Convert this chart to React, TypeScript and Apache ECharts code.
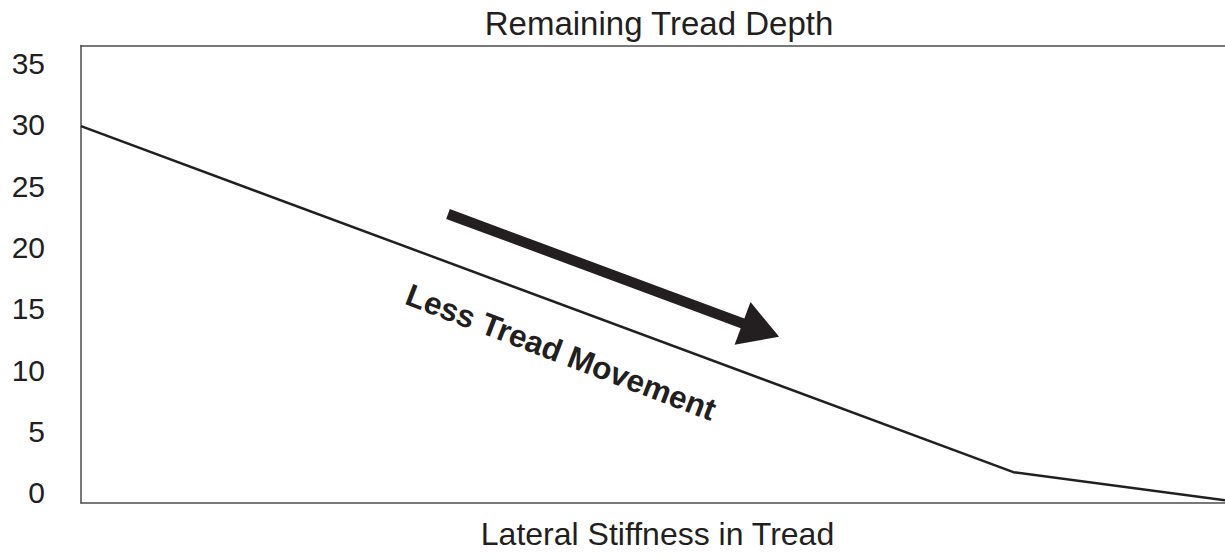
import React, { useEffect, useRef } from "react";
import * as echarts from "echarts";

// Data
const xPositions: number[] = [0, 81.5, 100]; // lateral stiffness (relative, no scale shown)
const treadDepth: number[] = [29.9, 1.7, -0.6];
const yTickValues: number[] = [0, 5, 10, 15, 20, 25, 30, 35];
const titleText = "Remaining Tread Depth";
const xAxisName = "Lateral Stiffness in Tread";
const annotationText = "Less Tread Movement";

const FONT = "'Liberation Sans', Arial, Helvetica, sans-serif";
const INK = "#231f20";

export default function App() {
  const ref = useRef<HTMLDivElement>(null);

  useEffect(() => {
    if (!ref.current) return;
    const chart = echarts.init(ref.current, undefined, { renderer: "svg" });

    const arrowAngle = (20.36 * Math.PI) / 180;
    const shaftLen = 314;
    const shaftHalf = 5.2;
    const headHalf = 22.8;
    const headLen = 39;

    const option: any = {
      animation: false,
      backgroundColor: "#ffffff",
      title: {
        text: titleText,
        left: 654,
        top: 2,
        textAlign: "center",
        textStyle: {
          fontFamily: FONT,
          fontSize: 33,
          fontWeight: "normal",
          color: INK,
        },
      },
      grid: { left: 81, right: 0, top: 45.6, bottom: 57, containLabel: false },
      xAxis: [
        {
          type: "value",
          min: 0,
          max: 100,
          position: "bottom",
          name: xAxisName,
          nameLocation: "middle",
          nameGap: 15,
          nameTextStyle: {
            fontFamily: FONT,
            fontSize: 32,
            color: INK,
            verticalAlign: "top",
            padding: [0, 0, 0, 9],
          },
          axisLine: { show: true, onZero: false, lineStyle: { color: "#4d4d4d", width: 1.5 } },
          axisTick: { show: false },
          axisLabel: { show: false },
          splitLine: { show: false },
        },
        {
          type: "value",
          min: 0,
          max: 100,
          position: "top",
          axisLine: { show: true, onZero: false, lineStyle: { color: "#4d4d4d", width: 1.5 } },
          axisTick: { show: false },
          axisLabel: { show: false },
          splitLine: { show: false },
        },
      ],
      yAxis: {
        type: "value",
        min: -0.815,
        max: 36.46,
        axisLine: { show: true, onZero: false, lineStyle: { color: "#4d4d4d", width: 1.5 } },
        axisTick: { show: false },
        splitLine: { show: false },
        axisLabel: {
          customValues: yTickValues,
          margin: 36,
          fontFamily: FONT,
          fontSize: 30,
          color: INK,
        },
      },
      series: [
        {
          type: "line",
          xAxisIndex: 0,
          data: xPositions.map((x, i) => [x, treadDepth[i]]),
          symbol: "none",
          lineStyle: { color: INK, width: 2.5 },
          clip: false,
        },
      ],
      graphic: [
        {
          type: "group",
          x: 448,
          y: 214,
          rotation: -arrowAngle,
          children: [
            {
              type: "polygon",
              shape: {
                points: [
                  [0, -shaftHalf],
                  [shaftLen, -shaftHalf],
                  [shaftLen, -headHalf],
                  [shaftLen + headLen, 0],
                  [shaftLen, headHalf],
                  [shaftLen, shaftHalf],
                  [0, shaftHalf],
                ],
              },
              style: { fill: INK },
            },
          ],
        },
        {
          type: "text",
          x: 561,
          y: 352,
          rotation: (-20.9 * Math.PI) / 180,
          style: {
            text: annotationText,
            fontFamily: FONT,
            fontSize: 31.5,
            fontWeight: "bold",
            fill: INK,
            textAlign: "center",
            textVerticalAlign: "middle",
          },
        },
      ],
    };

    chart.setOption(option);
    return () => chart.dispose();
  }, []);

  return (
    <div
      ref={ref}
      style={{ position: "absolute", left: 0, top: 0, width: 1225, height: 560 }}
    />
  );
}
